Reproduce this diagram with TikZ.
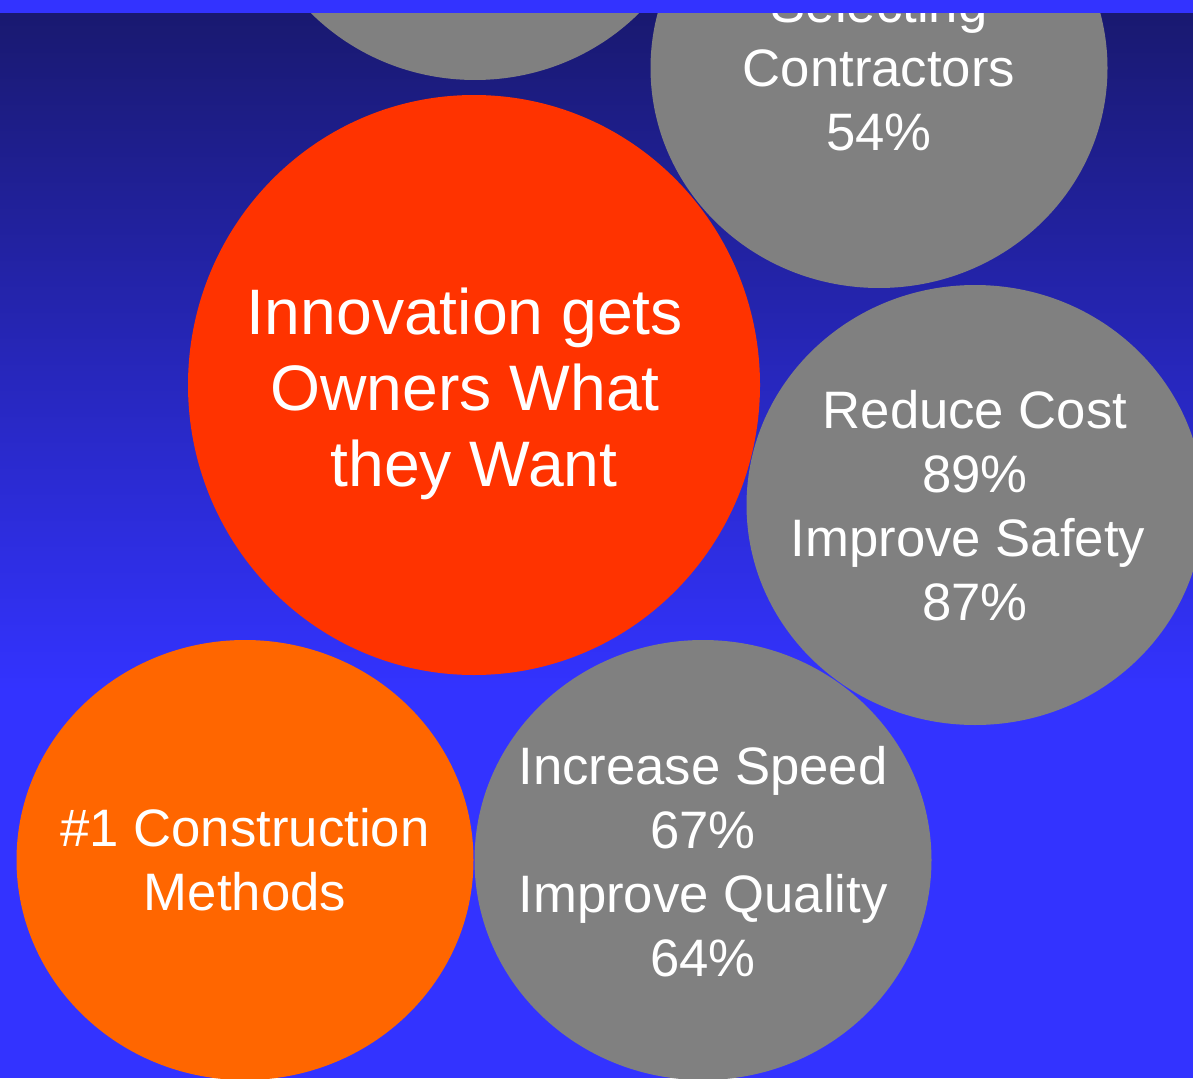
\documentclass[tikz,border=0pt]{standalone}
\usepackage{fontspec}
\setmainfont{Liberation Sans}
\usetikzlibrary{shapes.geometric}
\definecolor{bandblue}{HTML}{3333FF}
\definecolor{navytop}{RGB}{25,25,112}
\definecolor{greybub}{HTML}{808080}
\definecolor{redbub}{HTML}{FF3300}
\definecolor{orangebub}{HTML}{FF6600}
\tikzset{
  bubble/.style={ellipse, inner sep=0pt, draw=none,
    minimum width=457pt, minimum height=440pt},
  label/.style={inner sep=0pt, text=white, align=center},
  small/.style={label, font=\fontsize{52.7}{64}\selectfont},
  big/.style={label, font=\fontsize{64.3}{76}\selectfont}
}
\begin{document}
\begin{tikzpicture}[x=1pt,y=-1pt]
\useasboundingbox (0,0) rectangle (1193,1078);
\clip (0,0) rectangle (1193,1078);
\shade[top color=navytop, bottom color=bandblue] (0,13) rectangle (1193,690);
\fill[bandblue] (0,689) rectangle (1193,1078);
\node[bubble, fill=greybub] (topc) at (475,-140) {};
\node[bubble, fill=greybub] (select) at (879,68) {};
\node[bubble, fill=redbub, minimum width=572pt, minimum height=580pt] (innov) at (474,385) {};
\node[bubble, fill=greybub] (cost) at (975,505) {};
\node[bubble, fill=greybub] (speed) at (703,860) {};
\node[bubble, fill=orangebub] (methods) at (245,860) {};
\node[small] (selectt) at (select.center) {Selecting\\Contractors\\54\%};
\node[big] (innovt) at ([xshift=-9pt,yshift=-9pt]innov.center) {Innovation gets\\Owners What\\\hspace*{0.278em}they Want};
\node[small] (costt) at ([yshift=-1pt]cost.center) {Reduce Cost\\89\%\\Improve Safety\hspace*{14pt}\mbox{}\\87\%};
\node[small] (speedt) at ([yshift=-2pt]speed.center) {Increase Speed\\67\%\\Improve Quality\\64\%};
\node[small] (methodst) at (methods.center) {\#1 Construction\\Methods};
\fill[bandblue] (0,0) rectangle (1193,13);
\end{tikzpicture}
\end{document}
